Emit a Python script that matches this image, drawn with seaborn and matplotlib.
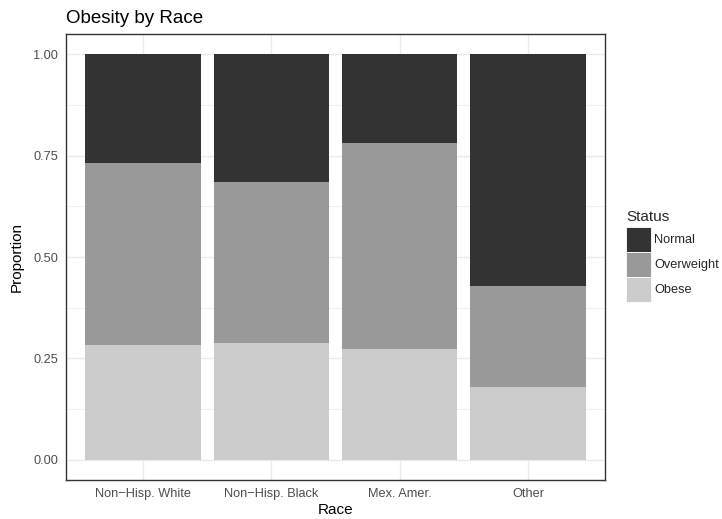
import matplotlib
matplotlib.use("Agg")
import matplotlib.pyplot as plt
import seaborn as sns
import pandas as pd
import numpy as np
from matplotlib.patches import Patch

races = ["Non\u2212Hisp. White", "Non\u2212Hisp. Black", "Mex. Amer.", "Other"]
obese = [0.282, 0.287, 0.272, 0.179]
overweight = [0.449, 0.397, 0.508, 0.249]
normal = [0.269, 0.316, 0.220, 0.572]
status = ["Normal", "Overweight", "Obese"]
colors = {"Normal": "#333333", "Overweight": "#999999", "Obese": "#cccccc"}

sns.set_theme(style="white")
plt.rcParams['font.family'] = ['Liberation Sans', 'DejaVu Sans']

df = pd.DataFrame({"Race": races, "Obese": obese, "Overweight": overweight, "Normal": normal})
df["cum_obese"] = df["Obese"]
df["cum_over"] = df["Obese"] + df["Overweight"]
df["cum_total"] = df["cum_over"] + df["Normal"]

fig = plt.figure(figsize=(7.22, 5.19), dpi=100)
ax = fig.add_axes([66/722, 1-480/519, (605-66)/722, (480-34)/519])

for col, st in [("cum_total", "Normal"), ("cum_over", "Overweight"), ("cum_obese", "Obese")]:
    sns.barplot(data=df, x="Race", y=col, order=races, color=colors[st],
                width=0.9, saturation=1, ax=ax, errorbar=None, linewidth=0)

ax.set_xlim(-0.6, 3.6)
ax.set_ylim(-0.05, 1.05)
ax.set_yticks([0, 0.25, 0.5, 0.75, 1.0])
ax.set_yticklabels(["0.00", "0.25", "0.50", "0.75", "1.00"])
ax.set_yticks([0.125, 0.375, 0.625, 0.875], minor=True)
ax.set_axisbelow(True)
ax.grid(True, which="major", color="#ebebeb", linewidth=1.0)
ax.grid(True, which="minor", axis="y", color="#ebebeb", linewidth=0.5)
ax.tick_params(axis="both", which="major", length=3.8, width=0.8, color="#333333",
               labelcolor="#4d4d4d", labelsize=9.2, pad=2)
ax.tick_params(axis="both", which="minor", length=0)
for s in ax.spines.values():
    s.set_visible(True)
    s.set_color("#333333")
    s.set_linewidth(1.0)

ax.set_xlabel("Race", fontsize=11, color="black", labelpad=2)
ax.set_ylabel("Proportion", fontsize=11, color="black", labelpad=7)
ax.set_title("Obesity by Race", loc="left", fontsize=13.5, color="black", pad=8)

handles = [Patch(facecolor=colors[s], edgecolor="white", linewidth=0.6, label=s) for s in status]
leg = fig.legend(handles=handles, title="Status", loc="upper left",
                 bbox_to_anchor=(626/722, 1-210/519), frameon=False,
                 fontsize=9.2, title_fontsize=11, handlelength=1.96, handleheight=2.63,
                 labelspacing=0.0, handletextpad=0.25, borderaxespad=0, borderpad=0)
leg._legend_box.align = "left"
leg._legend_box.sep = 2

fig.savefig("out.png", dpi=100)
